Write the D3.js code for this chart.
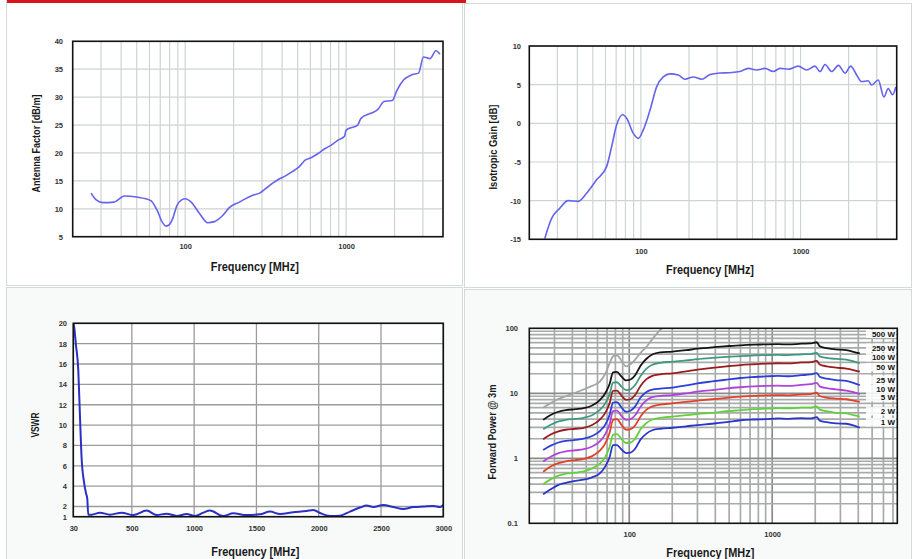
<!DOCTYPE html>
<html>
<head>
<meta charset="utf-8">
<script src="https://cdn.jsdelivr.net/npm/d3@7"></script>
<style>
  body { margin: 0; background: #fff; }
  svg { display: block; font-family: "Liberation Sans", Arial, sans-serif; }
</style>
</head>
<body>
<svg id="chart" width="915" height="559"></svg>
<script>
// ---- Antenna factor (top left) ----
var afFreq = [26, 28, 31, 36, 42, 50, 61, 67, 72, 76, 80, 83, 89, 95, 100, 109, 123, 138, 152, 171, 188, 217, 261, 290, 316, 350, 381, 420, 460, 510, 556, 610, 670, 740, 809, 890, 977, 1000, 1180, 1237, 1423, 1565, 1720, 1935, 2076, 2281, 2565, 2818, 3025, 3325, 3616, 3830];
var afValue = [12.8, 11.6, 11.1, 11.2, 12.3, 12.1, 11.5, 9.7, 7.6, 6.9, 7.2, 8.0, 10.6, 11.6, 11.8, 11.2, 9.1, 7.5, 7.7, 8.8, 10.2, 11.2, 12.4, 12.8, 13.6, 14.6, 15.3, 15.9, 16.6, 17.5, 18.7, 19.2, 19.9, 20.8, 21.4, 22.3, 23.0, 24.1, 25.0, 26.2, 27.1, 27.7, 29.2, 29.4, 31.3, 33.1, 34.0, 34.3, 37.2, 36.9, 38.3, 37.7];
var afTicks = [5, 10, 15, 20, 25, 30, 35, 40];

// ---- Isotropic gain (top right) ----
var gainFreq = [25, 27.6, 31, 35, 40.5, 45.7, 52.8, 61, 65.6, 70.5, 76.9, 81.4, 89.6, 96.3, 103.5, 114, 125.6, 138, 152, 171.5, 189, 213, 240, 271, 313, 361, 417, 471, 531, 599, 675, 743, 838, 968, 1092, 1231, 1324, 1422, 1566, 1726, 1899, 2061, 2245, 2412, 2655, 2785, 3066, 3328, 3540, 3767, 3953];
var gainValue = [-14.9, -12.3, -11, -10, -10.1, -9.05, -7.3, -5.6, -3.0, -0.2, 1.1, 0.65, -1.3, -1.95, -0.85, 1.7, 4.75, 6.0, 6.4, 6.25, 5.7, 6.0, 5.7, 6.3, 6.5, 6.55, 6.7, 7.1, 6.9, 7.1, 6.7, 7.1, 7.0, 7.4, 6.9, 7.4, 6.7, 7.6, 6.7, 7.5, 6.5, 7.4, 6.25, 5.4, 5.5, 4.95, 5.6, 3.4, 4.5, 3.7, 4.7];
var gainTicks = [-15, -10, -5, 0, 5, 10];

// ---- VSWR (bottom left) ----
var vswrFreq = [30, 35, 51, 70, 84, 97, 116, 132, 142, 150, 177, 244, 324, 418, 511, 619, 699, 779, 860, 940, 1007, 1074, 1127, 1234, 1314, 1421, 1528, 1609, 1689, 1796, 1903, 1957, 2010, 2090, 2171, 2251, 2331, 2385, 2438, 2518, 2599, 2679, 2760, 2840, 2920, 2974, 3000];
var vswrValue = [20, 19.8, 17.9, 15.4, 10.7, 6.7, 4.4, 3.3, 2.8, 1.2, 1.2, 1.4, 1.2, 1.4, 1.16, 1.6, 1.16, 1.3, 1.07, 1.26, 1.07, 1.4, 1.6, 1.07, 1.33, 1.16, 1.23, 1.5, 1.26, 1.43, 1.56, 1.66, 1.36, 1.07, 1.1, 1.5, 1.9, 2.1, 1.95, 2.15, 1.95, 1.75, 1.95, 2.0, 2.05, 1.95, 2.15];
var vswrXTicks = [30, 500, 1000, 1500, 2000, 2500, 3000];
var vswrYTicks = [1, 2, 4, 6, 8, 10, 12, 14, 16, 18, 20];

// ---- Forward power @ 3m (bottom right) ----
var fpFreq = [25, 28, 32, 36, 42, 48, 55, 62, 68, 73, 77, 82, 88, 95, 102, 110, 120, 132, 145, 165, 200, 250, 300, 380, 480, 600, 750, 900, 1100, 1300, 1600, 1850, 2050, 2150, 2400, 2800, 3300, 3700, 4100];
var fp500W = [6.0, 7.0, 8.2, 9.0, 10.2, 11.5, 13.0, 15.0, 20.0, 29.0, 37.0, 38.5, 32.0, 26.0, 28.0, 33.0, 42.0, 52.0, 68.0, 95.0, 120, 125, 128, 130, 132, 133, 134, 135, 136, 136, 137, 138, 140, 135, 130, 127, 125, 122, 120];
var fp250W = [3.9, 4.6, 5.2, 5.5, 5.7, 5.9, 6.5, 7.8, 10.0, 14.0, 21.0, 21.3, 18.2, 15.8, 16.3, 19.0, 26.5, 34.0, 39.5, 42.5, 43.7, 46.0, 48.5, 51.0, 53.0, 54.8, 56.0, 56.6, 57.0, 56.4, 58.0, 58.5, 61.0, 53.0, 49.5, 47.5, 46.0, 43.5, 41.0];
var fp100W = [2.8, 3.25, 3.7, 3.9, 4.05, 4.2, 4.6, 5.5, 7.0, 9.8, 14.6, 14.8, 12.8, 11.2, 11.5, 13.4, 18.5, 24.0, 27.5, 29.5, 30.6, 32.0, 33.5, 35.0, 36.3, 37.4, 38.2, 38.7, 39.0, 38.6, 39.8, 40.2, 42.0, 37.0, 35.0, 33.8, 33.0, 31.0, 29.0];
var fp50W = [1.96, 2.3, 2.6, 2.75, 2.85, 2.95, 3.25, 3.9, 5.0, 7.1, 10.9, 11.0, 9.3, 7.9, 8.1, 9.4, 13.0, 16.5, 18.6, 19.6, 20.3, 21.8, 23.2, 24.6, 26.0, 27.2, 28.0, 28.6, 29.0, 28.8, 29.8, 30.2, 31.5, 27.8, 26.0, 24.8, 24.0, 22.8, 21.5];
var fp25W = [1.34, 1.55, 1.75, 1.85, 1.92, 2.0, 2.2, 2.6, 3.3, 4.7, 7.2, 7.3, 6.1, 5.2, 5.4, 6.3, 8.6, 10.5, 11.4, 11.8, 12.2, 13.2, 14.2, 15.2, 16.2, 17.2, 17.8, 18.2, 18.5, 18.3, 19.0, 19.5, 20.5, 18.0, 16.8, 16.0, 15.5, 14.5, 13.4];
var fp10W = [0.89, 1.05, 1.2, 1.28, 1.33, 1.38, 1.52, 1.8, 2.35, 3.4, 5.3, 5.4, 4.5, 3.9, 4.0, 4.6, 6.2, 7.8, 8.7, 9.1, 9.4, 10.0, 10.6, 11.2, 11.9, 12.4, 12.8, 13.0, 13.1, 13.0, 13.5, 13.8, 14.5, 12.8, 12.0, 11.5, 11.0, 10.4, 9.7];
var fp5W = [0.62, 0.74, 0.84, 0.9, 0.94, 0.98, 1.08, 1.3, 1.7, 2.5, 3.9, 4.0, 3.3, 2.75, 2.8, 3.2, 4.4, 5.6, 6.3, 6.7, 7.0, 7.4, 7.7, 8.1, 8.5, 8.9, 9.1, 9.3, 9.4, 9.3, 9.6, 9.7, 10.2, 9.1, 8.6, 8.3, 8.1, 7.7, 7.4];
var fp2W = [0.40, 0.47, 0.54, 0.58, 0.6, 0.63, 0.7, 0.82, 1.05, 1.5, 2.3, 2.35, 2.0, 1.72, 1.75, 2.0, 2.8, 3.5, 3.95, 4.2, 4.37, 4.6, 4.8, 5.0, 5.3, 5.5, 5.7, 5.8, 5.9, 5.85, 6.0, 6.0, 6.3, 5.6, 5.3, 5.0, 4.9, 4.6, 4.37];
var fp1W = [0.28, 0.33, 0.39, 0.42, 0.45, 0.47, 0.51, 0.58, 0.75, 1.05, 1.6, 1.6, 1.38, 1.2, 1.22, 1.4, 1.95, 2.4, 2.7, 2.85, 2.95, 3.1, 3.25, 3.4, 3.6, 3.85, 3.95, 4.0, 4.1, 4.05, 4.15, 4.1, 4.3, 3.8, 3.6, 3.45, 3.4, 3.2, 2.95];
var fpLabels = ["500 W", "250 W", "100 W", "50 W", "25 W", "10 W", "5 W", "2 W", "1 W"];
var fpColors = ["#a5a5a5", "#151515", "#3d9a7e", "#991d1f", "#2d3fd8", "#b043dc", "#e3402c", "#62d23c", "#2a36c9"];
var fpLabelY = [336.5, 350.5, 360, 370, 382.5, 391.5, 400, 414, 425];
var fpYTicks = [0.1, 1, 10, 100];

var logTicks = [100, 1000];

var svg = d3.select("#chart");

// page frame: cells and red bar
svg.append("rect").attr("x", 6.5).attr("y", 0.5).attr("width", 456).attr("height", 285)
    .attr("fill", "#fff").attr("stroke", "#d3dada");
svg.append("rect").attr("x", 464.5).attr("y", 3.5).attr("width", 447).attr("height", 284)
    .attr("fill", "#fff").attr("stroke", "#d3dada");
svg.append("rect").attr("x", 6.5).attr("y", 287.5).attr("width", 456).attr("height", 275)
    .attr("fill", "#f8fafa").attr("stroke", "#d3dada");
svg.append("rect").attr("x", 464.5).attr("y", 289.5).attr("width", 447).attr("height", 275)
    .attr("fill", "#f8fafa").attr("stroke", "#d3dada");
svg.append("rect").attr("x", 7).attr("y", 0).attr("width", 459).attr("height", 3).attr("fill", "#d8141d");

/**
 * Draws one panel: plot area, grid, axes labels and returns the scales
 */
function panel(cfg)
{
    var g = svg.append("g");
    var x = cfg.xLog ? d3.scaleLog() : d3.scaleLinear();
    x.domain(cfg.xDomain).range([cfg.left, cfg.right]);
    var y = cfg.yLog ? d3.scaleLog() : d3.scaleLinear();
    y.domain(cfg.yDomain).range([cfg.bottom, cfg.top]);

    g.append("rect").attr("x", cfg.left).attr("y", cfg.top)
        .attr("width", cfg.right - cfg.left).attr("height", cfg.bottom - cfg.top)
        .attr("fill", "#fff");

    // grid lines
    g.selectAll(".vg").data(cfg.xGrid).enter().append("line")
        .attr("x1", function(d) { return x(d); }).attr("x2", function(d) { return x(d); })
        .attr("y1", cfg.top).attr("y2", cfg.bottom)
        .attr("stroke", function(d) { return cfg.gridDark && cfg.gridDark(d) ? cfg.gridColorDark : cfg.gridColor; })
        .attr("stroke-width", cfg.gridWidth);
    g.selectAll(".hg").data(cfg.yGrid).enter().append("line")
        .attr("y1", function(d) { return y(d); }).attr("y2", function(d) { return y(d); })
        .attr("x1", cfg.left).attr("x2", cfg.right)
        .attr("stroke", function(d) { return cfg.gridDark && cfg.gridDark(d) ? cfg.gridColorDark : cfg.gridColor; })
        .attr("stroke-width", cfg.gridWidth);

    // tick labels
    var xAxis = d3.axisBottom(x).tickValues(cfg.xTicks).tickSize(0).tickPadding(0)
        .tickFormat(function(d) { return d; });
    var ax = g.append("g").attr("transform", "translate(0," + cfg.xLabelY + ")").call(xAxis);
    ax.select(".domain").remove();
    ax.selectAll("text").attr("dy", 0).attr("font-size", 7.5).attr("font-weight", "bold")
        .attr("fill", "#333").attr("font-family", "Liberation Sans, Arial, sans-serif");

    var yAxis = d3.axisLeft(y).tickValues(cfg.yTicks).tickSize(0).tickPadding(0)
        .tickFormat(function(d) { return d; });
    var ay = g.append("g").attr("transform", "translate(" + cfg.yLabelX + ",0)").call(yAxis);
    ay.select(".domain").remove();
    ay.selectAll("text").attr("font-size", 7.5).attr("font-weight", "bold")
        .attr("fill", "#333").attr("font-family", "Liberation Sans, Arial, sans-serif");

    // axis titles (squeezed a little, the original uses a condensed face)
    g.append("text").attr("x", (cfg.left + cfg.right) / 2 - 3).attr("y", cfg.xTitleY)
        .attr("text-anchor", "middle").attr("font-size", 12).attr("font-weight", 600)
        .attr("textLength", 88).attr("lengthAdjust", "spacingAndGlyphs")
        .attr("fill", "#1a1a1a").text("Frequency [MHz]");
    g.append("text").attr("transform", "translate(" + cfg.yTitleX + "," + cfg.yTitleY + ") rotate(-90)")
        .attr("text-anchor", "middle").attr("font-size", 11).attr("font-weight", 600)
        .attr("textLength", cfg.yTitleLen).attr("lengthAdjust", "spacingAndGlyphs")
        .attr("fill", "#1a1a1a").text(cfg.yTitle);

    var clipId = "clip" + cfg.id;
    g.append("clipPath").attr("id", clipId).append("rect")
        .attr("x", cfg.left).attr("y", cfg.top)
        .attr("width", cfg.right - cfg.left).attr("height", cfg.bottom - cfg.top);

    var lines = g.append("g").attr("clip-path", "url(#" + clipId + ")");
    var frame = function() {
        g.append("rect").attr("x", cfg.left).attr("y", cfg.top)
            .attr("width", cfg.right - cfg.left).attr("height", cfg.bottom - cfg.top)
            .attr("fill", "none").attr("stroke", "#111").attr("stroke-width", 1.6);
    };
    return {x: x, y: y, g: g, lines: lines, frame: frame};
}

function minorLog(lo, hi)
{
    var out = [];
    for (var p = Math.pow(10, Math.floor(Math.log10(lo))); p <= hi; p *= 10) {
        for (var k = 1; k < 10; k++) {
            var v = Math.round(k * p * 1000) / 1000;
            if (v >= lo && v <= hi) out.push(v);
        }
    }
    return out;
}

function drawLine(p, xs, ys, color, width)
{
    var pts = xs.map(function(d, i) { return [d, ys[i]]; });
    var line = d3.line()
        .x(function(d) { return p.x(d[0]); })
        .y(function(d) { return p.y(d[1]); })
        .curve(d3.curveMonotoneX);
    p.lines.append("path").attr("d", line(pts))
        .attr("fill", "none").attr("stroke", color).attr("stroke-width", width)
        .attr("stroke-linejoin", "round");
}

// Top left: antenna factor
var p1 = panel({
    id: 1, left: 72.7, right: 443, top: 41.3, bottom: 236.7,
    xLog: true, xDomain: [20, 4000], yDomain: [5, 40],
    xGrid: minorLog(30, 3000), yGrid: afTicks, xTicks: logTicks, yTicks: afTicks,
    gridColor: "#cfd3d3", gridWidth: 1.2,
    xLabelY: 249, yLabelX: 63, xTitleY: 270.5, yTitleX: 40, yTitleY: 143.5,
    yTitle: "Antenna Factor [dB/m]", yTitleLen: 98
});
drawLine(p1, afFreq, afValue, "#6464ec", 1.6);
p1.frame();

// Top right: isotropic gain
var p2 = panel({
    id: 2, left: 529.3, right: 896.7, top: 46, bottom: 239.3,
    xLog: true, xDomain: [20, 4000], yDomain: [-15, 10],
    xGrid: minorLog(30, 3000), yGrid: gainTicks, xTicks: logTicks, yTicks: gainTicks,
    gridColor: "#cfd3d3", gridWidth: 1.2,
    xLabelY: 254, yLabelX: 521, xTitleY: 273.5, yTitleX: 497, yTitleY: 147,
    yTitle: "Isotropic Gain [dB]", yTitleLen: 85
});
drawLine(p2, gainFreq, gainValue, "#6464ec", 1.6);
p2.frame();

// Bottom left: VSWR
var p3 = panel({
    id: 3, left: 73.3, right: 443.3, top: 323.3, bottom: 516.7,
    xLog: false, xDomain: [30, 3000], yDomain: [1, 20],
    xGrid: vswrXTicks, yGrid: vswrYTicks, xTicks: vswrXTicks, yTicks: vswrYTicks,
    gridColor: "#9a9c9c", gridWidth: 1.3,
    xLabelY: 531, yLabelX: 67, xTitleY: 555.5, yTitleX: 39, yTitleY: 425,
    yTitle: "VSWR", yTitleLen: 25
});
drawLine(p3, vswrFreq, vswrValue, "#2b2fc4", 2);
p3.frame();

// Bottom right: forward power
var p4 = panel({
    id: 4, left: 529.3, right: 897.3, top: 328.3, bottom: 523.3,
    xLog: true, yLog: true, xDomain: [20, 7500], yDomain: [0.1, 100],
    xGrid: minorLog(30, 7000), yGrid: minorLog(0.2, 90), xTicks: logTicks, yTicks: fpYTicks,
    gridColor: "#a9abab", gridColorDark: "#8a8c8c", gridWidth: 1.7,
    gridDark: function(d) { return [0.1, 1, 10, 100, 1000].indexOf(d) >= 0; },
    xLabelY: 537, yLabelX: 518, xTitleY: 556.5, yTitleX: 496, yTitleY: 432,
    yTitle: "Forward Power @ 3m", yTitleLen: 95
});
var fpSeries = [fp500W, fp250W, fp100W, fp50W, fp25W, fp10W, fp5W, fp2W, fp1W];
fpSeries.forEach(function(vals, i) {
    drawLine(p4, fpFreq, vals, fpColors[i], 1.8);
});
// series labels at the right end of the curves
fpLabels.forEach(function(lab, i) {
    p4.g.append("rect").attr("x", 866).attr("y", fpLabelY[i] - 7).attr("width", 30).attr("height", 8.5)
        .attr("fill", "#fff").attr("opacity", 0.85);
    p4.g.append("text").attr("x", 895).attr("y", fpLabelY[i]).attr("text-anchor", "end")
        .attr("font-size", 8).attr("font-weight", "bold").attr("fill", "#111")
        .text(lab);
});
p4.frame();
</script>
</body>
</html>
